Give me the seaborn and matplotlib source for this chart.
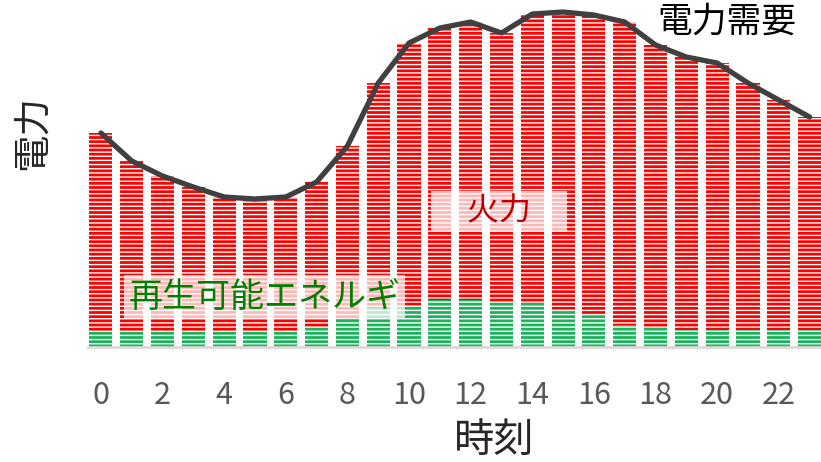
import matplotlib
matplotlib.use("Agg")
import matplotlib.pyplot as plt
import seaborn as sns
import pandas as pd

# Hourly supply mix (arbitrary units)
hours = list(range(24))
demand = [214, 186, 171, 160, 150, 148, 150, 165, 201, 264, 304, 319,
          325, 314, 333, 335, 332, 325, 302, 290, 284, 264, 247, 230]
renewable = [16, 16, 16, 16, 16, 16, 16, 20, 27, 39, 42, 47,
             47, 45, 44, 38, 32, 22, 19, 17, 17, 17, 17, 17]
tick_hours = list(range(0, 24, 2))

df = pd.DataFrame({"hour": hours, "demand": demand, "renewable": renewable})

sns.set_theme(style="white")
plt.rcParams["font.family"] = ["Noto Sans CJK JP", "DejaVu Sans"]
plt.rcParams["hatch.linewidth"] = 1.0

fig = plt.figure(figsize=(8.21, 4.62), dpi=100)
ax = fig.add_axes([88 / 821, 115 / 462, 1 - 88 / 821, 347 / 462])

# Thermal fills each bar from the renewable share up to total demand
sns.barplot(data=df, x="hour", y="demand", color="#FF0000", saturation=1,
            width=0.75, hatch="----", edgecolor="white", linewidth=0, ax=ax)
sns.barplot(data=df, x="hour", y="renewable", color="#1BB35A", saturation=1,
            width=0.75, hatch="----", edgecolor="white", linewidth=0, ax=ax)

sns.lineplot(x=hours, y=demand, color="#404040", linewidth=3.8, ax=ax,
             solid_capstyle="round")

ax.set_xlim(-0.42, 23.37)
ax.set_ylim(0, 347)
ax.set_yticks([])
ax.set_xticks(tick_hours)
ax.set_xticklabels([str(h) for h in tick_hours], color="#595959", fontsize=22)
ax.tick_params(axis="x", length=0, pad=24)
ax.set_xlabel("")
ax.set_ylabel("")
fig.text(494 / 821, 1 - 440 / 462, "時刻", fontsize=29, ha="center", va="center")
fig.text(32 / 821, 1 - 133 / 462, "電力", rotation=90, fontsize=27,
         ha="center", va="center")

for side in ["top", "right", "left"]:
    ax.spines[side].set_visible(False)
ax.spines["bottom"].set_color("#D9D9D9")
ax.spines["bottom"].set_linewidth(2)

ax.text(20.31, 325, "電力需要", fontsize=25, color="black", ha="center", va="center")
ax.text(12.93, 136, "　火力　", fontsize=23, color="#C00000", ha="center", va="center",
        bbox=dict(facecolor="white", alpha=0.72, edgecolor="none",
                  boxstyle="square,pad=0.12"))
ax.text(5.31, 50, "再生可能エネルギ", fontsize=24.5, color="#008000", ha="center",
        va="center", bbox=dict(facecolor="white", alpha=0.72, edgecolor="none",
                               boxstyle="square,pad=0.12"))

fig.savefig("out.png", dpi=100)
